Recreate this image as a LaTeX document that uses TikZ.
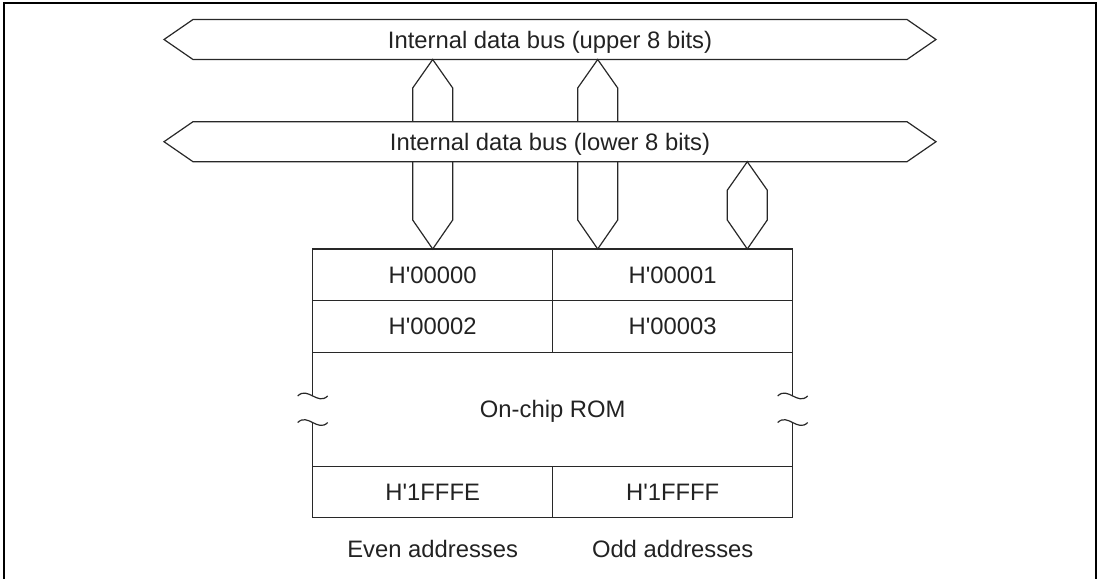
\documentclass[tikz,border=0pt]{standalone}
\usepackage{fontspec}
\setmainfont{Liberation Sans}
\definecolor{romLine}{RGB}{40,40,40}
\definecolor{romText}{RGB}{34,34,34}
\usetikzlibrary{positioning, calc}

\begin{document}
\begin{tikzpicture}[x=0.5pt, y=-0.5pt,
  every node/.style={font=\fontsize{11.9}{14}\selectfont, text=romText, text depth=0pt},
  busbox/.style={minimum width=357pt, minimum height=20pt, inner sep=0pt, outer sep=0pt},
  cell/.style={draw=romLine, line width=0.6pt, minimum width=120pt, minimum height=25.85pt,
               inner sep=0pt, outer sep=0pt},
  romarea/.style={minimum width=240pt, minimum height=56.85pt, inner sep=0pt, outer sep=0pt},
  busline/.style={draw=romLine, line width=0.6pt, line join=miter},
  romside/.style={draw=romLine, line width=0.6pt}]
  \useasboundingbox (0,0) rectangle (1100,579);
  \draw[line width=1pt] (4,579) |- (1096,2.5) -- (1096,579);

  % buses
  \node[busbox] (ub) at (550,39.5) {Internal data bus (upper 8 bits)};
  \node[busbox] (lb) at (550,141.7) {Internal data bus (lower 8 bits)};
  \draw[busline] ($(ub.west)+(-29,0)$) -- (ub.north west) -- (ub.north east)
       -- ($(ub.east)+(29,0)$) -- (ub.south east) -- (ub.south west) -- cycle;
  \draw[busline] ($(lb.west)+(-29,0)$) -- (lb.north west) -- (lb.north east)
       -- ($(lb.east)+(29,0)$) -- (lb.south east) -- (lb.south west) -- cycle;

  % memory cells
  \node[cell] (c0) at (432.7,274.85) {H\textquotesingle 00000};
  \node[cell, right=0pt of c0] (c1) {H\textquotesingle 00001};
  \node[cell, below=0pt of c0] (c2) {H\textquotesingle 00002};
  \node[cell, right=0pt of c2] (c3) {H\textquotesingle 00003};
  \node[romarea, below=0pt of c2.south east] (rom) {On-chip ROM};
  \node[cell, anchor=north west] (ce) at (rom.south west) {H\textquotesingle 1FFFE};
  \node[cell, right=0pt of ce] (co) {H\textquotesingle 1FFFF};
  \node (evenlbl) at ($(ce.south)+(0,31)$) {Even addresses};
  \node (oddlbl) at ($(co.south)+(0,31)$) {Odd addresses};

  % broken sides of the ROM
  \draw[romside] (rom.north west) -- ($(rom.west)+(0,-13.3)$);
  \draw[romside] ($(rom.west)+(0,13.3)$) -- (rom.south west);
  \draw[romside] (rom.north east) -- ($(rom.east)+(0,-13.3)$);
  \draw[romside] ($(rom.east)+(0,13.3)$) -- (rom.south east);
  \draw[romside] ($(rom.west)+(-15,-13.3)$) .. controls +(10,-10) and +(-10,10) .. ($(rom.west)+(15,-13.3)$);
  \draw[romside] ($(rom.west)+(-15,13.3)$) .. controls +(10,-10) and +(-10,10) .. ($(rom.west)+(15,13.3)$);
  \draw[romside] ($(rom.east)+(-15,-13.3)$) .. controls +(10,-10) and +(-10,10) .. ($(rom.east)+(15,-13.3)$);
  \draw[romside] ($(rom.east)+(-15,13.3)$) .. controls +(10,-10) and +(-10,10) .. ($(rom.east)+(15,13.3)$);

  % vertical bus links
  \coordinate (v1) at (432.7,0);
  \coordinate (v2) at (597.7,0);
  \coordinate (v3) at (747.3,0);
  \draw[busline] ($(v1|-lb.north)+(-20,0)$) -- ($(v1|-ub.south)+(-20,28.5)$) -- (v1|-ub.south)
       -- ($(v1|-ub.south)+(20,28.5)$) -- ($(v1|-lb.north)+(20,0)$);
  \draw[busline] ($(v1|-lb.south)+(-20,0)$) -- ($(v1|-c0.north)+(-20,-29)$) -- (v1|-c0.north)
       -- ($(v1|-c0.north)+(20,-29)$) -- ($(v1|-lb.south)+(20,0)$);
  \draw[busline] ($(v2|-lb.north)+(-20,0)$) -- ($(v2|-ub.south)+(-20,28.5)$) -- (v2|-ub.south)
       -- ($(v2|-ub.south)+(20,28.5)$) -- ($(v2|-lb.north)+(20,0)$);
  \draw[busline] ($(v2|-lb.south)+(-20,0)$) -- ($(v2|-c1.north)+(-20,-29)$) -- (v2|-c1.north)
       -- ($(v2|-c1.north)+(20,-29)$) -- ($(v2|-lb.south)+(20,0)$);
  \draw[busline] (v3|-lb.south) -- ($(v3|-lb.south)+(20,28.5)$) -- ($(v3|-c1.north)+(20,-29)$)
       -- (v3|-c1.north) -- ($(v3|-c1.north)+(-20,-29)$) -- ($(v3|-lb.south)+(-20,28.5)$) -- cycle;
\end{tikzpicture}
\end{document}
